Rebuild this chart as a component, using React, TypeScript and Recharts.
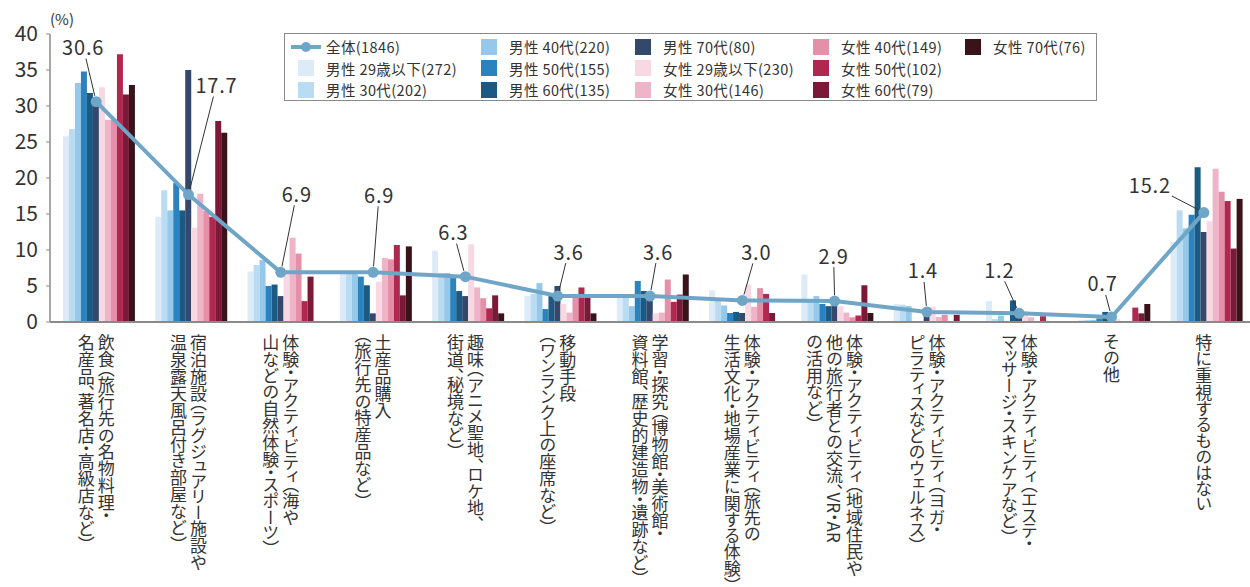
import React from 'react';
import { Bar, ComposedChart, LabelList, Line, XAxis, YAxis } from 'recharts';

const categories = [
  '飲食（旅行先の名物料理・\n名産品、著名店・高級店など）',
  '宿泊施設（ラグジュアリー施設や\n温泉露天風呂付き部屋など）',
  '体験・アクティビティ（海や\n山などの自然体験・スポーツ）',
  '土産品購入\n（旅行先の特産品など）',
  '趣味（アニメ聖地、ロケ地、\n街道、秘境など）',
  '移動手段\n（ワンランク上の座席など）',
  '学習・探究（博物館・美術館・\n資料館、歴史的建造物・遺跡など）',
  '体験・アクティビティ（旅先の\n生活文化・地場産業に関する体験）',
  '体験・アクティビティ（地域住民や\n他の旅行者との交流、VR・AR\nの活用など）',
  '体験・アクティビティ（ヨガ・\nピラティスなどのウェルネス）',
  '体験・アクティビティ（エステ・\nマッサージ・スキンケアなど）',
  'その他',
  '特に重視するものはない'
];

const overall = [30.6, 17.7, 6.9, 6.9, 6.3, 3.6, 3.6, 3.0, 2.9, 1.4, 1.2, 0.7, 15.2];
const male29 = [25.8, 14.6, 7.0, 6.9, 9.9, 3.6, 3.9, 4.4, 6.6, 2.5, 2.9, 0.3, 11.1];
const male30 = [26.8, 18.3, 7.9, 6.9, 6.8, 3.9, 3.9, 3.3, 3.2, 2.4, 0.4, 0.3, 15.5];
const male40 = [33.2, 15.5, 8.6, 6.8, 6.8, 5.4, 2.2, 2.3, 3.6, 2.2, 0.9, 0.3, 13.0];
const male50 = [34.8, 19.3, 5.0, 6.3, 6.1, 1.8, 5.7, 1.25, 2.5, 0, 0, 0.5, 14.9];
const male60 = [31.8, 15.5, 5.2, 5.1, 4.3, 4.0, 4.3, 1.4, 2.2, 0, 3.0, 1.4, 21.5];
const male70 = [30.0, 35.0, 3.6, 1.2, 3.6, 5.0, 3.8, 1.25, 2.3, 1.0, 1.5, 0.8, 12.5];
const female29 = [32.6, 13.1, 7.0, 5.6, 10.8, 2.5, 1.2, 5.2, 2.2, 2.1, 1.5, 0.4, 14.0];
const female30 = [28.1, 17.8, 11.7, 8.9, 4.8, 1.3, 1.3, 2.1, 1.3, 0.7, 0.65, 0, 21.3];
const female40 = [28.1, 15.4, 9.5, 8.7, 3.3, 3.9, 5.9, 4.7, 0.65, 1.0, 0, 0, 18.1];
const female50 = [37.2, 14.6, 2.9, 10.7, 1.9, 4.8, 2.8, 3.9, 0.9, 0, 0.8, 2.0, 16.8];
const female60 = [31.6, 27.9, 6.3, 3.7, 3.7, 3.8, 3.8, 1.25, 5.1, 1.0, 0, 1.2, 10.2];
const female70 = [32.9, 26.3, 0, 10.5, 1.2, 1.2, 6.6, 0, 1.25, 0, 0, 2.5, 17.1];

const yTicks = [0, 5, 10, 15, 20, 25, 30, 35, 40];

const series = [
  { key: 'm29', name: '男性 29歳以下(272)', values: male29, color: '#dcebf7' },
  { key: 'm30', name: '男性 30代(202)', values: male30, color: '#badcf2' },
  { key: 'm40', name: '男性 40代(220)', values: male40, color: '#96c8ea' },
  { key: 'm50', name: '男性 50代(155)', values: male50, color: '#2a83be' },
  { key: 'm60', name: '男性 60代(135)', values: male60, color: '#1b5a83' },
  { key: 'm70', name: '男性 70代(80)', values: male70, color: '#34486c' },
  { key: 'f29', name: '女性 29歳以下(230)', values: female29, color: '#f8d9e3' },
  { key: 'f30', name: '女性 30代(146)', values: female30, color: '#efb4c7' },
  { key: 'f40', name: '女性 40代(149)', values: female40, color: '#e58fa9' },
  { key: 'f50', name: '女性 50代(102)', values: female50, color: '#b0274f' },
  { key: 'f60', name: '女性 60代(79)', values: female60, color: '#7a1a38' },
  { key: 'f70', name: '女性 70代(76)', values: female70, color: '#3a1219' }
];

const lineColor = '#6fa6c8';
const font = '"Noto Sans CJK JP", "Noto Sans", sans-serif';

const data = categories.map((name, i) => {
  const row: Record<string, any> = { name, overall: overall[i] };
  series.forEach(s => {
    row[s.key] = s.values[i];
  });
  return row;
});

// where each value label sits relative to its point
const labelOffsets = [
  [-13, -55], [28, -110], [16, -79], [6, -78], [-12, -45], [11, -45], [8, -45],
  [14, -49], [-1, -46], [-4, -42], [-20, -44], [-9, -34], [-54, -28]
];

const CategoryTick = (props: any) => {
  const { x, y, payload } = props;
  const lines = String(payload.value).split('\n');
  const n = lines.length;
  return (
    <g>
      {lines.map((line, i) => (
        <text
          key={i}
          x={x + ((n - 1) / 2 - i) * 20}
          y={y + 4}
          fontSize={17}
          fill="#333"
          fontFamily={font}
          style={{ writingMode: 'vertical-rl', fontFeatureSettings: '"vpal"' }}
        >
          {line}
        </text>
      ))}
    </g>
  );
};

const ValueLabel = (props: any) => {
  const { x, y, value, index } = props;
  const [dx, dy] = labelOffsets[index] || [0, -30];
  const lx = x + dx;
  const ly = y + dy;
  const len = Math.hypot(dx, dy) || 1;
  const ux = -dx / len;
  const uy = -dy / len;
  const t = Math.min(Math.abs(ux) > 0.001 ? 23 / Math.abs(ux) : 999, Math.abs(uy) > 0.001 ? 11 / Math.abs(uy) : 999);
  return (
    <g>
      <line
        x1={lx + ux * (t + 1)}
        y1={ly + uy * (t + 1)}
        x2={x - ux * 6}
        y2={y - uy * 6}
        stroke="#333"
        strokeWidth={1}
      />
      <text
        x={lx}
        y={ly}
        textAnchor="middle"
        dominantBaseline="central"
        fontSize={20}
        letterSpacing={0.8}
        fill="#333"
        fontFamily={font}
      >
        {Number(value).toFixed(1)}
      </text>
    </g>
  );
};

const legendColumns = [
  { left: 290, items: ['overall', 'm29', 'm30'] },
  { left: 473, items: ['m40', 'm50', 'm60'] },
  { left: 627, items: ['m70', 'f29', 'f30'] },
  { left: 805, items: ['f40', 'f50', 'f60'] },
  { left: 957, items: ['f70'] }
];

function LegendBox() {
  return (
    <div
      style={{
        position: 'absolute',
        left: 284,
        top: 33,
        width: 811,
        height: 66,
        border: '1px solid #8a8a8a',
        fontFamily: font,
        fontSize: 14.5,
        letterSpacing: 0.4,
        color: '#333'
      }}
    >
      {legendColumns.map(col =>
        col.items.map((key, row) => {
          const s = series.find(it => it.key === key);
          return (
            <div
              key={key}
              style={{
                position: 'absolute',
                left: col.left - 284,
                top: 2 + row * 21.5,
                height: 21,
                display: 'flex',
                alignItems: 'center',
                whiteSpace: 'nowrap'
              }}
            >
              <svg width={30} height={16} style={{ marginRight: 5 }}>
                {key === 'overall' ? (
                  <g>
                    <line x1={0} y1={8} x2={30} y2={8} stroke={lineColor} strokeWidth={4} />
                    <circle cx={15} cy={8} r={5} fill={lineColor} />
                  </g>
                ) : (
                  <rect x={7} y={0} width={16} height={16} fill={s ? s.color : '#ccc'} />
                )}
              </svg>
              <span>{key === 'overall' ? '全体(1846)' : s?.name}</span>
            </div>
          );
        })
      )}
    </div>
  );
}

export default function App() {
  return (
    <div style={{ position: 'absolute', left: 0, top: 0, width: 1250, height: 587, background: '#fff' }}>
      <ComposedChart
        width={1250}
        height={587}
        data={data}
        margin={{ top: 34, right: 0, left: 0, bottom: 0 }}
        barCategoryGap="14%"
        barGap={0}
      >
        <XAxis
          dataKey="name"
          height={265}
          interval={0}
          tickLine={false}
          axisLine={{ stroke: '#8a8a8a', strokeWidth: 2 }}
          tick={<CategoryTick />}
        />
        <YAxis
          width={50}
          domain={[0, 40]}
          ticks={yTicks}
          interval={0}
          tickSize={4}
          tickMargin={8}
          tickLine={{ stroke: '#8a8a8a' }}
          axisLine={{ stroke: '#8a8a8a', strokeWidth: 1.5 }}
          tick={{ fontSize: 21, fill: '#333', fontFamily: font }}
        />
        {series.map(s => (
          <Bar key={s.key} dataKey={s.key} name={s.name} fill={s.color} isAnimationActive={false} />
        ))}
        <Line
          dataKey="overall"
          name="全体(1846)"
          stroke={lineColor}
          strokeWidth={4}
          dot={{ r: 5.5, fill: lineColor, stroke: lineColor, strokeWidth: 0 }}
          activeDot={false}
          isAnimationActive={false}
        >
          <LabelList dataKey="overall" content={<ValueLabel />} />
        </Line>
      </ComposedChart>
      <div style={{ position: 'absolute', left: 50, top: 8, fontFamily: font, fontSize: 15, color: '#333' }}>(%)</div>
      <LegendBox />
    </div>
  );
}
